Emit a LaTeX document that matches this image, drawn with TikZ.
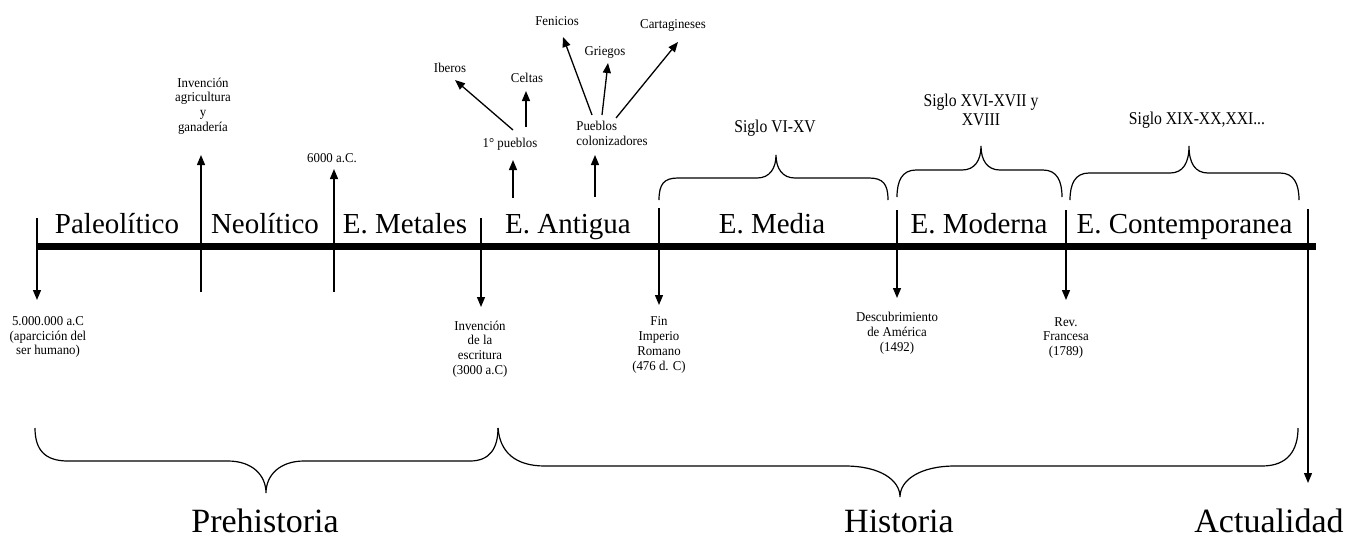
\documentclass[tikz,border=0pt]{standalone}
\usepackage{fontspec}
\setmainfont{Liberation Serif}
\newfontfamily\condA{Liberation Serif}[FakeStretch=0.87]
\newfontfamily\condB{Liberation Serif}[FakeStretch=0.95]
\usetikzlibrary{arrows.meta}
\begin{document}
\begin{tikzpicture}[x=1pt,y=-1pt,
  era/.style={anchor=base,inner sep=0pt,font=\fontsize{29}{30}\selectfont},
  big/.style={anchor=base,inner sep=0pt,font=\fontsize{34}{36}\selectfont},
  siglo/.style={inner sep=0pt,align=center,font=\condA\fontsize{18}{19}\selectfont},
  note/.style={inner sep=0pt,align=center,font=\condB\fontsize{13.5}{14.8}\selectfont},
  arr/.style={line width=1.3pt,-{Triangle[width=8pt,length=10pt]}},
  brace/.style={line width=1.2pt},
  bar/.style={line width=7pt}]
\useasboundingbox (0,0) rectangle (1346,539);

% timeline bar
\coordinate (barL) at (37,246.5);
\coordinate (barR) at (1316,246.5);
\draw[bar] (barL) -- (barR);

% era labels
\node[era] (pal) at (117,233) {Paleolítico};
\node[era] (neo) at (265,233) {Neolítico};
\node[era] (met) at (405,233) {E. Metales};
\node[era] (ant) at (568,233) {E. Antigua};
\node[era] (med) at (772,233) {E. Media};
\node[era] (mod) at (979,233) {E. Moderna};
\node[era] (con) at (1184.5,233) {E. Contemporanea};

% arrow coordinates
\coordinate (s5M) at (37,218);   \coordinate (e5M) at (37,300);
\coordinate (sNeo) at (201,292); \coordinate (eNeo) at (201,155);
\coordinate (sMet) at (334,292); \coordinate (eMet) at (334,169);
\coordinate (sEsc) at (481,218); \coordinate (eEsc) at (481,307);
\coordinate (sP1) at (513,198);  \coordinate (eP1) at (513,160);
\coordinate (sIb) at (513,130);  \coordinate (eIb) at (455,80);
\coordinate (sCe) at (526,127);  \coordinate (eCe) at (526,91);
\coordinate (sCol) at (595,197); \coordinate (eCol) at (595,155);
\coordinate (sFe) at (592,115);  \coordinate (eFe) at (563,37);
\coordinate (sGr) at (602,115);  \coordinate (eGr) at (608,63);
\coordinate (sCa) at (616,118);  \coordinate (eCa) at (678,42);
\coordinate (sFin) at (659,208); \coordinate (eFin) at (659,305);
\coordinate (sDes) at (897,210); \coordinate (eDes) at (897,298);
\coordinate (sRev) at (1066,210);\coordinate (eRev) at (1066,300);
\coordinate (sAct) at (1308,209);\coordinate (eAct) at (1308,483);

\draw[arr] (s5M) -- (e5M);
\draw[arr] (sNeo) -- (eNeo);
\draw[arr] (sMet) -- (eMet);
\draw[arr] (sEsc) -- (eEsc);
\draw[arr] (sP1) -- (eP1);
\draw[arr] (sIb) -- (eIb);
\draw[arr] (sCe) -- (eCe);
\draw[arr] (sCol) -- (eCol);
\draw[arr] (sFe) -- (eFe);
\draw[arr] (sGr) -- (eGr);
\draw[arr] (sCa) -- (eCa);
\draw[arr] (sFin) -- (eFin);
\draw[arr] (sDes) -- (eDes);
\draw[arr] (sRev) -- (eRev);
\draw[arr] (sAct) -- (eAct);

% small notes
\node[note] (n5M) at (48,337) {5.000.000 a.C\\(aparcición del\\ser humano)};
\node[note] (nAgr) at (203,106) {Invención\\agricultura\\y\\ganadería};
\node[note] (n6000) at (332,158) {6000 a.C.};
\node[note] (nEsc) at (480,349) {Invención\\de la\\escritura\\(3000 a.C)};
\node[note] (nP1) at (510,144) {1° pueblos};
\node[note] (nIb) at (450,68) {Iberos};
\node[note] (nCe) at (527,78) {Celtas};
\node[note,align=left] (nCol) at (612,133) {Pueblos\\colonizadores};
\node[note] (nFe) at (557,21) {Fenicios};
\node[note] (nGr) at (605,52) {Griegos};
\node[note] (nCa) at (673,25) {Cartagineses};
\node[note] (nFin) at (659,345) {Fin\\Imperio\\Romano\\(476 d. C)};
\node[note] (nDes) at (897,333) {Descubrimiento\\de América\\(1492)};
\node[note] (nRev) at (1066,338) {Rev.\\Francesa\\(1789)};

% top braces
\draw[brace] (659,200) .. controls (659,184) and (664,178) .. (678,178) -- (757,178)
  .. controls (770,178) and (776,168) .. (776,155)
  .. controls (776,168) and (782,178) .. (795,178) -- (869,178)
  .. controls (883,178) and (888,184) .. (888,200);
\draw[brace] (897,197) .. controls (897,181) and (902,170) .. (916,170) -- (962,170)
  .. controls (975,170) and (981,160) .. (981,146)
  .. controls (981,160) and (987,170) .. (1000,170) -- (1043,170)
  .. controls (1057,170) and (1062,181) .. (1062,197);
\draw[brace] (1070,200) .. controls (1070,184) and (1075,173) .. (1089,173) -- (1170,173)
  .. controls (1183,173) and (1189,163) .. (1189,146)
  .. controls (1189,163) and (1195,173) .. (1208,173) -- (1280,173)
  .. controls (1294,173) and (1299,184) .. (1299,200);

\node[siglo] (sMed) at (775,128) {Siglo VI-XV};
\node[siglo] (sMod) at (981,110) {Siglo XVI-XVII y\\XVIII};
\node[siglo] (sCon) at (1197,120) {Siglo XIX-XX,XXI...};

% bottom braces
\draw[brace] (35,428) .. controls (35,450) and (45,461) .. (68,461) -- (228,461)
  .. controls (252,461) and (266,475) .. (266,493)
  .. controls (266,475) and (280,461) .. (304,461) -- (470,461)
  .. controls (490,461) and (498,448) .. (498,428);
\draw[brace] (498,428) .. controls (500,452) and (515,466) .. (545,466) -- (845,466)
  .. controls (880,466) and (900,480) .. (900,497)
  .. controls (900,480) and (920,466) .. (955,466) -- (1262,466)
  .. controls (1288,466) and (1298,450) .. (1298,428);

\node[big] (pre) at (265,532) {Prehistoria};
\node[big] (his) at (899,532) {Historia};
\node[big] (act) at (1269,532) {Actualidad};
\end{tikzpicture}
\end{document}
